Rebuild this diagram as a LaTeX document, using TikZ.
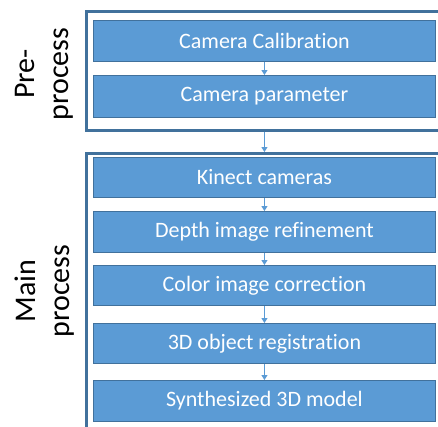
\documentclass[tikz,border=0pt]{standalone}
\usepackage{fontspec}
\setmainfont[Ligatures={NoCommon,NoRequired,NoContextual},RawFeature={-liga;-dlig;-clig;-calt}]{Carlito}
\usetikzlibrary{arrows.meta}
\definecolor{boxblue}{HTML}{5B9BD5}
\definecolor{boxedge}{HTML}{41719C}
\definecolor{framecol}{HTML}{41719C}
\tikzset{
  stepbox/.style={draw=boxedge, line width=0.9pt, fill=boxblue, text=white,
    minimum width=342pt, inner sep=0pt, font=\fontsize{22}{26}\selectfont},
  framebox/.style={draw=framecol, line width=3pt, inner sep=0pt},
  flow/.style={draw=boxblue, line width=0.9pt, -{Triangle[length=5pt,width=6pt]}},
  sidelabel/.style={rotate=90, align=center, font=\fontsize{30}{34}\selectfont}
}
\begin{document}
\begin{tikzpicture}[x=1pt,y=-1pt]
\useasboundingbox (0,0) rectangle (438,426);
\clip (0,0) rectangle (438,426);
% frames
\node[framebox, minimum width=380pt, minimum height=118.5pt, anchor=north west] (pre) at (84.5,10) {};
\node[framebox, minimum width=380pt, minimum height=300pt, anchor=north west] (main) at (84.5,152) {};
% steps
\node[stepbox, minimum height=41pt, anchor=north west] (b1) at (93,20) {Camera Calibration};
\node[stepbox, minimum height=42pt, anchor=north west] (b2) at (93,75) {Camera parameter};
\node[stepbox, minimum height=40pt, anchor=north west] (b3) at (93,157) {Kinect cameras};
\node[stepbox, minimum height=41pt, anchor=north west] (b4) at (93,211) {Depth image refinement};
\node[stepbox, minimum height=40pt, anchor=north west] (b5) at (93,265) {Color image correction};
\node[stepbox, minimum height=40pt, anchor=north west] (b6) at (93,323) {3D object registration};
\node[stepbox, minimum height=41pt, anchor=north west] (b7) at (93,380) {Synthesized 3D model};
% arrows
\draw[flow] (b1) -- (b2);
\draw[flow] (pre.south -| b2.south) -- (main.north -| b3.north);
\draw[flow] (b3) -- (b4);
\draw[flow] (b4) -- (b5);
\draw[flow] (b5) -- (b6);
\draw[flow] (b6) -- (b7);
% side labels
\node[sidelabel] (lpre) at (44,74) {Pre-\\process};
\node[sidelabel] (lmain) at (45,291) {Main\\process};
\end{tikzpicture}
\end{document}
